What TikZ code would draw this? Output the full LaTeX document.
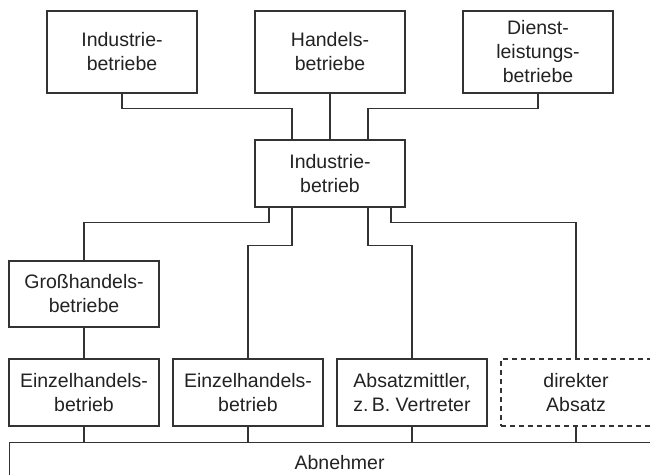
\documentclass[tikz,border=0pt]{standalone}
\usepackage{fontspec}
\setmainfont{Liberation Sans}
\definecolor{linie}{HTML}{333333}
\definecolor{schrift}{HTML}{222222}
\tikzset{
  kasten/.style={draw=linie, line width=1.2pt, align=center, text=schrift,
    minimum width=150, minimum height=67, inner sep=0pt,
    font=\fontsize{19.5}{24}\selectfont},
  verbindung/.style={draw=linie, line width=1.2pt}
}
\begin{document}
\begin{tikzpicture}[x=1pt,y=-1pt]
	    \clip (0,0) rectangle (650,474);
	    \fill[white] (0,0) rectangle (650,474);
	    % obere Reihe
	    \node[kasten, minimum height=82] (ind) at (122,52) {Industrie-\\betriebe};
	    \node[kasten, minimum height=82] (han) at (330,52) {Handels-\\betriebe};
	    \node[kasten, minimum height=82] (dien) at (538,52) {Dienst-\\leistungs-\\betriebe};
	    \node[kasten] (mitte) at (330,173.5) {Industrie-\\betrieb};
	    \node[kasten, minimum height=66] (gross) at (84,294) {Großhandels-\\betriebe};
	    % untere Reihe
	    \node[kasten] (ez1) at (84,392.5) {Einzelhandels-\\betrieb};
	    \node[kasten] (ez2) at (248,392.5) {Einzelhandels-\\betrieb};
	    \node[kasten] (abs) at (412,392.5) {Absatzmittler,\\z.\,B. Vertreter};
	    \node[kasten, dash pattern=on 5pt off 4pt] (dir) at (576,392.5) {direkter\\Absatz};
	    \node[kasten, minimum width=660, minimum height=40, anchor=north west] (abn) at (9,442) {Abnehmer};
	    % Verbindungen nach oben
	    \draw[verbindung] (ind.south) -- ++(0,15) -| ([xshift=-38]mitte.north);
	    \draw[verbindung] (han.south) -- (mitte.north);
	    \draw[verbindung] (dien.south) -- ++(0,15) -| ([xshift=38]mitte.north);
	    % Verbindungen nach unten
	    \draw[verbindung] ([xshift=-61]mitte.south) -- ++(0,15) -| (gross.north);
	    \draw[verbindung] ([xshift=-38]mitte.south) -- ++(0,38) -| (ez2.north);
	    \draw[verbindung] ([xshift=38]mitte.south) -- ++(0,38) -| (abs.north);
	    \draw[verbindung] ([xshift=61]mitte.south) -- ++(0,15) -| (dir.north);
	    \draw[verbindung] (gross.south) -- (ez1.north);
	    \draw[verbindung] (ez1.south) -- (ez1.south |- abn.north);
	    \draw[verbindung] (ez2.south) -- (ez2.south |- abn.north);
	    \draw[verbindung] (abs.south) -- (abs.south |- abn.north);
	    \draw[verbindung] (dir.south) -- (dir.south |- abn.north);
\end{tikzpicture}
\end{document}
